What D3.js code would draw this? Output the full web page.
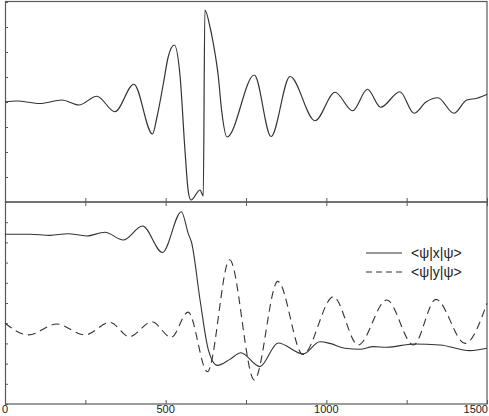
<!DOCTYPE html>
<html>
<head>
<meta charset="utf-8">
<script src="https://cdn.jsdelivr.net/npm/d3@7"></script>
<style>
  html, body { margin: 0; padding: 0; background: #fff; overflow: hidden; }
  svg { display: block; }
</style>
</head>
<body>
<script>
// ---- data ----
const xTickLabels = [0, 500, 1000, 1500];
const xMinorTicks = [0, 250, 500, 750, 1000, 1250, 1500];

// top panel: wave signal
const topX = [0, 37, 109, 177, 230, 286, 342, 401, 459, 473, 493, 508, 527, 545, 560, 571, 579, 607, 617, 622, 638, 648, 664, 674, 691, 776, 828, 887, 965, 1027, 1082, 1128, 1169, 1229, 1273, 1310, 1347, 1397, 1437, 1469, 1500];
const topY = [0, 0.04, -0.06, 0.08, -0.12, 0.23, -0.39, 0.71, -1.28, -0.6, 0.75, 1.81, 2.28, 1.01, -1.92, -3.64, -3.92, -3.52, -3.76, 3.68, 3.0, 2.36, 1.0, -0.32, -1.4, 1.08, -1.38, 1.02, -0.75, 0.39, -0.35, 0.51, -0.21, 0.41, -0.45, 0.0, 0.17, -0.45, 0.08, 0.15, 0.31];

// bottom panel: expectation values
const xMeanT = [0, 78, 140, 196, 254, 311, 368, 428, 490, 549, 570, 581, 607, 633, 661, 700, 734, 793, 850, 928, 980, 1011, 1058, 1105, 1146, 1188, 1271, 1354, 1447, 1500];
const xMeanV = [8.40, 8.40, 8.35, 8.43, 8.32, 8.50, 8.12, 8.81, 7.50, 9.52, 8.45, 7.97, 5.15, 2.67, 1.91, 2.21, 2.54, 1.85, 3.02, 2.48, 3.08, 3.00, 2.76, 2.71, 2.84, 2.81, 2.97, 2.92, 2.64, 2.76];

const yMeanT = [0, 73, 161, 249, 327, 387, 457, 517, 570, 630, 699, 776, 849, 927, 1022, 1099, 1188, 1271, 1341, 1432, 1500];
const yMeanV = [4.0, 3.42, 3.96, 3.42, 4.04, 3.33, 4.07, 3.30, 4.55, 1.60, 7.14, 1.19, 6.07, 2.45, 5.31, 2.92, 5.15, 2.92, 5.18, 3.00, 4.99];

const legendLabels = ["<\u03C8|x|\u03C8>", "<\u03C8|y|\u03C8>"];

// ---- drawing ----
const W = 489, H = 416;
const svg = d3.select("body").append("svg").attr("width", W).attr("height", H);

const x = d3.scaleLinear().domain([0, 1500]).range([5, 487]);
const yTop = d3.scaleLinear().domain([-4, 4]).range([202, 2]);
const yBot = d3.scaleLinear().domain([0, 10]).range([404, 202]);

const frameColor = "#5a5a5a";
const lineColor = "#333";

// left axis ticks (inward)
svg.append("g").attr("transform", "translate(5,0)")
  .call(d3.axisLeft(yTop).tickValues(d3.range(-4, 5, 1)).tickSize(-3).tickFormat(""))
  .call(g => g.select(".domain").remove())
  .call(g => g.selectAll("line").attr("stroke", frameColor));
svg.append("g").attr("transform", "translate(5,0)")
  .call(d3.axisLeft(yBot).tickValues(d3.range(0, 11, 1)).tickSize(-3).tickFormat(""))
  .call(g => g.select(".domain").remove())
  .call(g => g.selectAll("line").attr("stroke", frameColor));

// x ticks
[[202, -4, "b"], [202, -4, "t"], [404, -4, "b"]].forEach(([yy, sz, side]) => {
  const ax = side === "b" ? d3.axisBottom(x) : d3.axisTop(x);
  svg.append("g").attr("transform", `translate(0,${yy})`)
    .call(ax.tickValues(xMinorTicks).tickSize(sz).tickFormat(""))
    .call(g => g.select(".domain").remove())
    .call(g => g.selectAll("line").attr("stroke", frameColor));
});

// frames
svg.append("rect").attr("x", 5.5).attr("y", 1.5).attr("width", 481.5).attr("height", 200.5)
  .attr("fill", "none").attr("stroke", frameColor).attr("stroke-width", 1.2);
svg.append("rect").attr("x", 5.5).attr("y", 202).attr("width", 481.5).attr("height", 202)
  .attr("fill", "none").attr("stroke", frameColor).attr("stroke-width", 1.2);

// x tick labels (kept inside the window)
svg.append("g").selectAll("text").data(xTickLabels).join("text")
  .attr("x", (d, i) => i === 0 ? 2 : (i === xTickLabels.length - 1 ? 488 : x(d)))
  .attr("y", 413)
  .attr("text-anchor", (d, i) => i === 0 ? "start" : (i === xTickLabels.length - 1 ? "end" : "middle"))
  .attr("font-family", "Liberation Sans, Arial, sans-serif")
  .attr("font-size", 11).attr("fill", "#222")
  .text(d => d);

// curves
const line = (xs, ys, ysc) => d3.line()
  .x((d, i) => x(xs[i])).y((d, i) => ysc(ys[i]))
  .curve(d3.curveMonotoneX)(xs);

svg.append("path").attr("d", line(topX, topY, yTop))
  .attr("fill", "none").attr("stroke", lineColor).attr("stroke-width", 1.2);
svg.append("path").attr("d", line(xMeanT, xMeanV, yBot))
  .attr("fill", "none").attr("stroke", lineColor).attr("stroke-width", 1.1);
svg.append("path").attr("d", line(yMeanT, yMeanV, yBot))
  .attr("fill", "none").attr("stroke", lineColor).attr("stroke-width", 1.1)
  .attr("stroke-dasharray", "8,5");

// legend
const lg = svg.append("g");
legendLabels.forEach((lab, i) => {
  const yy = 253 + i * 19;
  lg.append("line").attr("x1", 366).attr("x2", 402).attr("y1", yy).attr("y2", yy)
    .attr("stroke", lineColor).attr("stroke-width", 1.1)
    .attr("stroke-dasharray", i === 1 ? "6,4" : null);
  lg.append("text").attr("x", 411).attr("y", yy).attr("dy", "0.35em")
    .attr("font-family", "Liberation Sans, Arial, sans-serif")
    .attr("font-size", 14).attr("fill", "#222")
    .text(lab);
});
</script>
</body>
</html>
